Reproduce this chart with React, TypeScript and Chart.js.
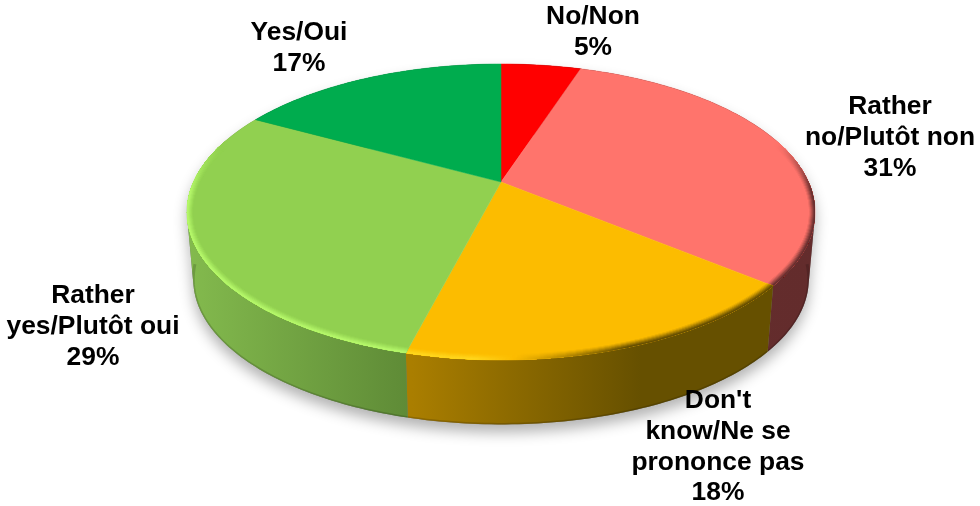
import React, { useEffect, useRef } from "react";
import { Chart, registerables } from "chart.js";

Chart.register(...registerables);

const categories = ["No/Non", "Rather no/Plutôt non", "Don't know/Ne se prononce pas", "Rather yes/Plutôt oui", "Yes/Oui"];
const shares = [5, 31, 18, 29, 17];
const labelLines = [["No/Non"], ["Rather", "no/Plutôt non"], ["Don't", "know/Ne se", "prononce pas"], ["Rather", "yes/Plutôt oui"], ["Yes/Oui"]];
const sliceColors = ["#ff0000", "#ff746c", "#fcbc00", "#91d050", "#00ac4e"];
const rimLight = ["#ff4040", "#ff9a94", "#ffd820", "#b8fa6c", "#30d070"];
const rimDark = ["#801010", "#5c2a2a", "#5a4600", "#4f7a2a", "#006030"];
const sideFrom = ["#700000", "#6a2f2f", "#aa7e00", "#84bb4e", "#006a30"];
const sideTo = ["#700000", "#632c2c", "#665000", "#5e8a36", "#006a30"];
const sideX = [[0, 1], [0, 1], [0.36, 0.72], [0, 0.36], [0, 1]];
const labelAnchors = [[593, 17], [890, 107], [718, 401], [93, 296], [299, 33]];

const TILT_K = 0.2027;
const STRETCH_X = 2.606;
const STRETCH_Y = 1.2027;
const DEPTH = 68;
const BASE_SCALE = 0.98;
const LABEL_FONT = 'bold 26.4px "Liberation Sans", Arial, sans-serif';
const LINE_HEIGHT = 30.7;

const hex = (c: string) => [1, 3, 5].map((i) => parseInt(c.slice(i, i + 2), 16));
const mix = (a: string, b: string, t: number) => {
  const A = hex(a), B = hex(b);
  return `rgb(${A.map((v, i) => Math.round(v + (B[i] - v) * t)).join(",")})`;
};

const tiltPlugin = {
  id: "tiltedPie",
  beforeDatasetsDraw(chart: any) {
    const ctx: CanvasRenderingContext2D = chart.ctx;
    const arcs = chart.getDatasetMeta(0).data as any[];
    const a0 = arcs[0];
    const cx = a0.x, cy = a0.y, R = a0.outerRadius;
    const project = (ang: number, r = 1, dy = 0, s = 1) => {
      const X = r * Math.cos(ang), Y = -r * Math.sin(ang);
      const w = 1 + TILT_K * Y;
      return [cx + (s * R * STRETCH_X * X) / w, cy + dy - (s * R * STRETCH_Y * Y) / w];
    };
    const arcPts = (st: number, en: number, r = 1, dy = 0, s = 1) => {
      const n = Math.max(2, Math.ceil(((en - st) * 180) / Math.PI));
      const out: number[][] = [];
      for (let i = 0; i <= n; i++) out.push(project(st + ((en - st) * i) / n, r, dy, s));
      return out;
    };
    const trace = (pts: number[][]) => {
      pts.forEach((p, i) => (i ? ctx.lineTo(p[0], p[1]) : ctx.moveTo(p[0], p[1])));
    };
    const area = (q: number[][]) =>
      q.reduce((s, p, i) => {
        const n = q[(i + 1) % q.length];
        return s + p[0] * n[1] - n[0] * p[1];
      }, 0);
    const traceStrip = (top: number[][], bot: number[][]) => {
      ctx.beginPath();
      for (let i = 0; i < top.length - 1; i++) {
        let q = [top[i], top[i + 1], bot[i + 1], bot[i]];
        if (area(q) < 0) q = q.reverse();
        trace(q);
        ctx.closePath();
      }
    };
    const left = cx - R * STRETCH_X - 10;
    const width = 2 * R * STRETCH_X + 20;

    // soft shadow under the body
    ctx.save();
    ctx.shadowColor = "rgba(0,0,0,0.3)";
    ctx.shadowBlur = 14;
    ctx.shadowOffsetY = 8;
    ctx.fillStyle = "#777";
    const allTop = arcPts(-Math.PI / 2, 1.5 * Math.PI);
    const allBot = arcPts(-Math.PI / 2, 1.5 * Math.PI, 1, DEPTH, BASE_SCALE);
    traceStrip(allTop, allBot);
    ctx.fill();
    ctx.restore();

    // extruded sides
    arcs.forEach((arc, i) => {
      const top = arcPts(arc.startAngle, arc.endAngle);
      const bot = arcPts(arc.startAngle, arc.endAngle, 1, DEPTH, BASE_SCALE);
      const g = ctx.createLinearGradient(left + width * sideX[i][0], 0, left + width * sideX[i][1], 0);
      g.addColorStop(0, sideFrom[i]);
      g.addColorStop(1, sideTo[i]);
      traceStrip(top, bot);
      ctx.fillStyle = g;
      ctx.fill();
      const lipStart = Math.max(arc.startAngle, 0.1);
      const lipEnd = Math.min(arc.endAngle, Math.PI - 0.1);
      if (lipEnd > lipStart) {
        ctx.save();
        traceStrip(top, bot);
        ctx.clip();
        ctx.beginPath();
        trace(arcPts(lipStart, lipEnd, 1, DEPTH, BASE_SCALE));
        ctx.strokeStyle = "rgba(0,0,0,0.16)";
        ctx.lineWidth = 3;
        ctx.stroke();
        ctx.restore();
      }
    });

    // top faces
    arcs.forEach((arc, i) => {
      const edge = arcPts(arc.startAngle, arc.endAngle);
      const path = () => {
        ctx.beginPath();
        ctx.moveTo(cx, cy);
        edge.forEach((p) => ctx.lineTo(p[0], p[1]));
        ctx.closePath();
      };
      path();
      ctx.fillStyle = sliceColors[i];
      ctx.fill();
      ctx.strokeStyle = sliceColors[i];
      ctx.lineWidth = 0.5;
      ctx.stroke();

      // bevel on the near rim: opaque bands from wide and faint to narrow and strong
      ctx.save();
      path();
      ctx.clip();
      const n = Math.ceil(((arc.endAngle - arc.startAngle) * 180) / Math.PI) * 2;
      const bands = [[12, 0.1], [10, 0.25], [8, 0.42], [6, 0.6], [4, 0.78], [2, 0.92]];
      ctx.lineCap = "round";
      bands.forEach(([w, strength]) => {
        ctx.lineWidth = w;
        for (let k = 0; k < n; k++) {
          const a = arc.startAngle + ((arc.endAngle - arc.startAngle) * k) / n;
          const b = arc.startAngle + ((arc.endAngle - arc.startAngle) * (k + 1)) / n;
          const mid = (a + b) / 2;
          const X = Math.cos(mid), Y = -Math.sin(mid);
          const fade = Math.min(1, Math.max(0, (0.28 - Y) / 0.35));
          if (fade <= 0) continue;
          const isDark = X > 0.03;
          const str = isDark ? Math.min(1, (X - 0.03) / 0.3) : Math.min(1, (0.03 - X) / 0.1);
          const pa = project(a), pb = project(b);
          ctx.strokeStyle = mix(sliceColors[i], isDark ? rimDark[i] : rimLight[i], strength * fade * str);
          ctx.beginPath();
          ctx.moveTo(pa[0], pa[1]);
          ctx.lineTo(pb[0], pb[1]);
          ctx.stroke();
        }
      });
      ctx.restore();
    });
    return false;
  },
  afterDraw(chart: any) {
    const ctx: CanvasRenderingContext2D = chart.ctx;
    ctx.save();
    ctx.font = LABEL_FONT;
    ctx.fillStyle = "#000000";
    ctx.textAlign = "center";
    ctx.textBaseline = "middle";
    labelLines.forEach((lines, i) => {
      const rows = [...lines, `${shares[i]}%`];
      rows.forEach((t, r) => ctx.fillText(t, labelAnchors[i][0], labelAnchors[i][1] + r * LINE_HEIGHT));
    });
    ctx.restore();
  },
};

export default function App() {
  const ref = useRef<HTMLCanvasElement>(null);
  useEffect(() => {
    document.body.style.margin = "0";
    document.body.style.background = "#ffffff";
    const chart = new Chart(ref.current as HTMLCanvasElement, {
      type: "pie",
      data: {
        labels: categories,
        datasets: [{ data: shares, backgroundColor: sliceColors, borderWidth: 0 }],
      },
      options: {
        responsive: false,
        animation: false,
        layout: { padding: { left: 383, right: 361, top: 64, bottom: 206 } },
        plugins: { legend: { display: false }, tooltip: { enabled: false } },
      },
      plugins: [tiltPlugin],
    } as any);
    return () => chart.destroy();
  }, []);
  return <canvas ref={ref} width={980} height={506} style={{ display: "block", width: 980, height: 506 }} />;
}
